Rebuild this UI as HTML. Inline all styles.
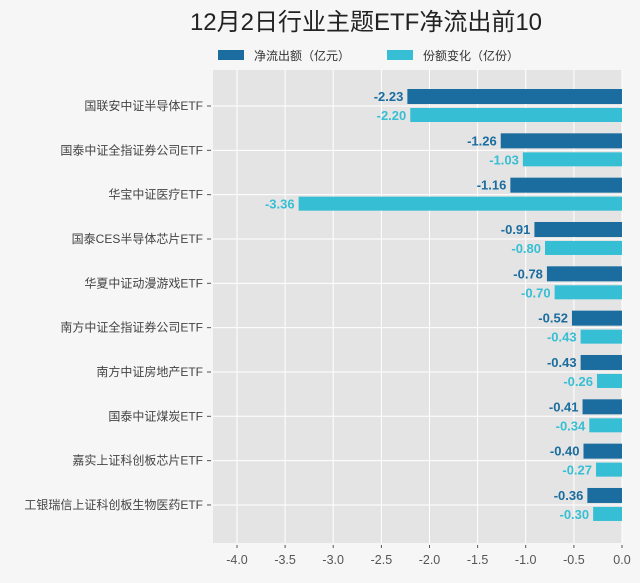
<!DOCTYPE html>
<html><head><meta charset="utf-8"><style>
body{margin:0;width:640px;height:578px;background:#f6f6f6;overflow:hidden}
svg text{font-family:"Liberation Sans","Noto Sans CJK SC",sans-serif}
</style></head><body>
<svg width="640" height="578" viewBox="0 0 640 578" xmlns="http://www.w3.org/2000/svg">
<rect width="640" height="578" fill="#f6f6f6"/>
<text x="366" y="30" text-anchor="middle" font-size="24" fill="#222">12月2日行业主题ETF净流出前10</text>
<rect x="218" y="50" width="26" height="10" fill="#1a6d9e"/>
<text x="254" y="60" font-size="12" fill="#333">净流出额（亿元）</text>
<rect x="387" y="50" width="26" height="10" fill="#36bfd4"/>
<text x="423" y="60" font-size="12" fill="#333">份额变化（亿份）</text>
<rect x="213" y="70" width="409" height="473" fill="#e4e4e4"/>
<g stroke="#fff" stroke-width="1">
<line x1="237" y1="70" x2="237" y2="543"/><line x1="285.1" y1="70" x2="285.1" y2="543"/><line x1="333.2" y1="70" x2="333.2" y2="543"/><line x1="381.4" y1="70" x2="381.4" y2="543"/><line x1="429.5" y1="70" x2="429.5" y2="543"/><line x1="477.6" y1="70" x2="477.6" y2="543"/><line x1="525.7" y1="70" x2="525.7" y2="543"/><line x1="573.9" y1="70" x2="573.9" y2="543"/><line x1="622" y1="70" x2="622" y2="543"/>
</g>
<g id="cats" font-size="12" fill="#444" text-anchor="end"></g>
<g id="bars"></g>
<g font-size="12.5" fill="#555" text-anchor="middle">
<text x="237" y="564">-4.0</text><text x="285.1" y="564">-3.5</text><text x="333.2" y="564">-3.0</text><text x="381.4" y="564">-2.5</text><text x="429.5" y="564">-2.0</text><text x="477.6" y="564">-1.5</text><text x="525.7" y="564">-1.0</text><text x="573.9" y="564">-0.5</text><text x="622" y="564">0.0</text>
</g>
<g stroke="#555"><line x1="237" y1="545" x2="237" y2="548"/><line x1="285.1" y1="545" x2="285.1" y2="548"/><line x1="333.2" y1="545" x2="333.2" y2="548"/><line x1="381.4" y1="545" x2="381.4" y2="548"/><line x1="429.5" y1="545" x2="429.5" y2="548"/><line x1="477.6" y1="545" x2="477.6" y2="548"/><line x1="525.7" y1="545" x2="525.7" y2="548"/><line x1="573.9" y1="545" x2="573.9" y2="548"/><line x1="622" y1="545" x2="622" y2="548"/></g>
</svg>
<script>
var names=["国联安中证半导体ETF","国泰中证全指证券公司ETF","华宝中证医疗ETF","国泰CES半导体芯片ETF","华夏中证动漫游戏ETF","南方中证全指证券公司ETF","南方中证房地产ETF","国泰中证煤炭ETF","嘉实上证科创板芯片ETF","工银瑞信上证科创板生物医药ETF"];
var a=[-2.23,-1.26,-1.16,-0.91,-0.78,-0.52,-0.43,-0.41,-0.40,-0.36];
var b=[-2.20,-1.03,-3.36,-0.80,-0.70,-0.43,-0.26,-0.34,-0.27,-0.30];
var s=96.25,z=622,h="";
var c1="",c2="";
for(var i=0;i<10;i++){var c=106+i*44.33;
c1+='<line x1="213" y1="'+c+'" x2="622" y2="'+c+'" stroke="#fff"/>';
c2+='<text x="203" y="'+(c+4)+'">'+names[i]+'</text><line x1="207" y1="'+c+'" x2="211" y2="'+c+'" stroke="#555"/>';
var wa=-a[i]*s,wb=-b[i]*s;
h+='<rect x="'+(z-wa)+'" y="'+(c-17)+'" width="'+wa+'" height="15" fill="#1a6d9e"/>';
h+='<rect x="'+(z-wb)+'" y="'+(c+2)+'" width="'+wb+'" height="14" fill="#36bfd4"/>';
h+='<text x="'+(z-wa-4)+'" y="'+(c-5)+'" text-anchor="end" font-size="13" font-weight="bold" fill="#1a6d9e">'+a[i].toFixed(2)+'</text>';
h+='<text x="'+(z-wb-4)+'" y="'+(c+14)+'" text-anchor="end" font-size="13" font-weight="bold" fill="#36bfd4">'+b[i].toFixed(2)+'</text>';}
document.getElementById("bars").innerHTML=c1+h;
document.getElementById("cats").innerHTML=c2;
</script>
</body></html>
